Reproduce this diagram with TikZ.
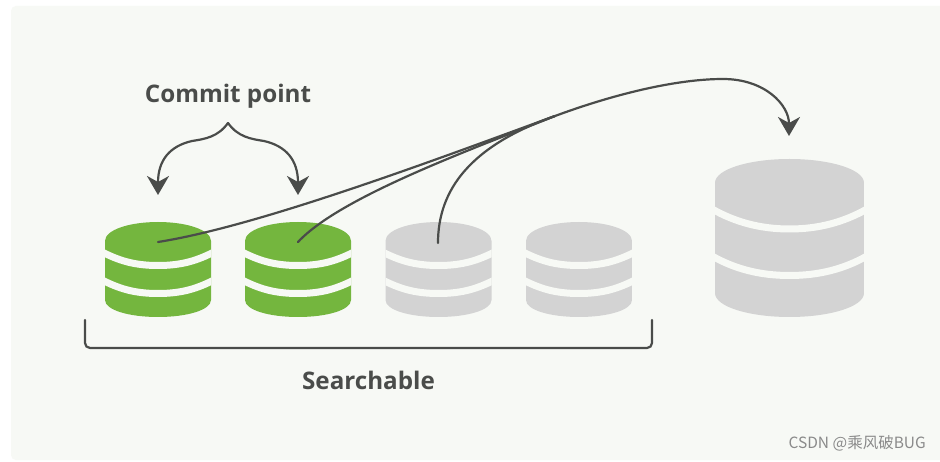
\documentclass[tikz,border=0pt]{standalone}
\usepackage{fontspec}
\setmainfont{Open Sans}
\newfontfamily\cjk{Noto Sans CJK SC}
\usetikzlibrary{arrows.meta}
\definecolor{panel}{HTML}{F7F9F5}
\definecolor{ink}{HTML}{4A4C4A}
\definecolor{dbgreen}{HTML}{74B63E}
\definecolor{dbgray}{HTML}{D3D3D3}
\definecolor{mark}{HTML}{8A8A8A}
\tikzset{
 x=1pt,y=-1pt,
 conn/.style={draw=ink,line width=2.2pt,line cap=round},
 tipped/.style={conn,-{Stealth[length=19pt,width=22pt,inset=6pt]}},
 heading/.style={text=ink,font=\fontsize{24.2}{28}\selectfont\bfseries,inner sep=0pt},
}
% small database: #1 centre x, #2 colour
\newcommand{\smalldb}[2]{%
 \begin{scope}[shift={(#1,0)}]
  \begin{scope}
   \path[clip] (-53,241) .. controls (-53,230) and (-29,222) .. (0,222) .. controls (29,222) and (53,230) .. (53,241)
     -- (53,300) .. controls (53,310) and (29,317) .. (0,317) .. controls (-29,317) and (-53,310) .. (-53,300) -- cycle;
   \fill[#2] (-54,221) rectangle (54,318);
   \draw[panel,line width=7pt] (-56,252) .. controls (-40,260) and (-25,265.5) .. (0,265.5) .. controls (25,265.5) and (40,260) .. (56,252);
   \draw[panel,line width=7pt] (-56,280) .. controls (-40,288) and (-25,293.5) .. (0,293.5) .. controls (25,293.5) and (40,288) .. (56,280);
  \end{scope}
 \end{scope}}
\begin{document}
\begin{tikzpicture}
\useasboundingbox (0,0) rectangle (940,462);
\fill[white] (0,0) rectangle (940,462);
\fill[panel,rounded corners=5pt] (11,6) rectangle (945,460);
\smalldb{158}{dbgreen}
\smalldb{298}{dbgreen}
\smalldb{438.5}{dbgray}
\smalldb{579}{dbgray}
% big database
\begin{scope}
 \path[clip] (715,183) .. controls (715,169) and (750,159) .. (789.5,159) .. controls (829,159) and (864,169) .. (864,183)
   -- (864,293) .. controls (864,307) and (829,317) .. (789.5,317) .. controls (750,317) and (715,307) .. (715,293) -- cycle;
 \fill[dbgray] (714,158) rectangle (865,318);
 \draw[panel,line width=7pt] (712,209) .. controls (735,222) and (760,229) .. (789.5,229) .. controls (819,229) and (844,222) .. (867,209);
 \draw[panel,line width=7pt] (712,256) .. controls (735,269) and (760,275.5) .. (789.5,275.5) .. controls (819,275.5) and (844,269) .. (867,256);
\end{scope}
\node[heading] (commit) at (228,96) {Commit point};
\node[heading] (search) at (368.5,380) {Searchable};
\node[text=mark,font=\cjk\fontsize{15.5}{18}\selectfont,inner sep=0pt,anchor=east] (wm) at (926,443) {CSDN @乘风破BUG};
\coordinate (apex) at (228,123);
\coordinate (tipa) at (158,195);
\coordinate (tipb) at (298,195);
\coordinate (seg1) at (158,242);
\coordinate (seg2) at (298,242);
\coordinate (seg3) at (438,243);
\coordinate (merge) at (555,116);
\coordinate (tipc) at (789,136);
\coordinate (bl) at (85,320);
\coordinate (br) at (652,320);
\draw[tipped] (apex) .. controls (218,137) and (205,139) .. (192,141) .. controls (170,146) and (158,160) .. (tipa);
\draw[tipped] (apex) .. controls (238,137) and (251,139) .. (264,141) .. controls (286,146) and (298,160) .. (tipb);
\draw[tipped] (seg1) .. controls (260,226) and (440,158) .. (merge) .. controls (620,92) and (680,79) .. (723,79) .. controls (765,79) and (789,105) .. (tipc);
\draw[conn] (seg2) .. controls (340,197) and (470,150) .. (merge);
\draw[conn] (seg3) .. controls (438,190) and (470,146) .. (merge);
\draw[conn,rounded corners=5pt] (bl) -- (85,348) -- (652,348) -- (br);
\end{tikzpicture}
\end{document}
